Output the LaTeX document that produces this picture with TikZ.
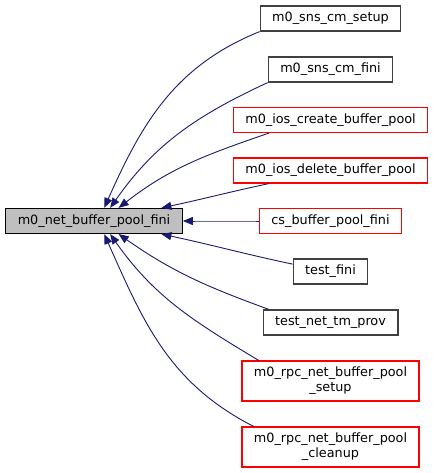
\documentclass[tikz,border=0pt]{standalone}
\usepackage{fontspec}
\setmainfont{DejaVu Sans}
\usepackage{xcolor}
\usepackage{tikz}
\usetikzlibrary{arrows.meta}
\definecolor{edgeblue}{HTML}{191970}
\definecolor{boxgray}{HTML}{404040}
\definecolor{boxred}{HTML}{FF0000}

\begin{document}
\begin{tikzpicture}
			[x=1pt,y=-1pt,every node/.style={rectangle,draw=boxgray,line width=1.2pt,fill=white,
			inner xsep=12pt,minimum height=25pt,align=center,font=\fontsize{12.8}{15}\selectfont},
			redbox/.style={draw=boxred},
			twoline/.style={minimum height=40pt},
			edge/.style={draw=edgeblue,line width=0.9pt,-{Triangle[length=10pt,width=8pt]}}]
				\useasboundingbox (0,0) rectangle (435,473);
				\node [fill=gray!50,draw=black](main) at (94,221) {m0\_net\_buffer\_pool\_fini};
				\node (setup) at (330.5,18.5) {m0\_sns\_cm\_setup};
				\node (snsfini) at (330.5,69.5) {m0\_sns\_cm\_fini};
				\node [redbox](create) at (330.5,120) {m0\_ios\_create\_buffer\_pool};
				\node [redbox](delete) at (330.5,170.5) {m0\_ios\_delete\_buffer\_pool};
				\node [redbox](cs) at (330.5,221) {cs\_buffer\_pool\_fini};
				\node (testfini) at (330.5,271.5) {test\_fini};
				\node (prov) at (330.5,322.5) {test\_net\_tm\_prov};
				\node [redbox,twoline](rpcsetup) at (330.5,381) {m0\_rpc\_net\_buffer\_pool\\\_setup};
				\node [redbox,twoline](rpccleanup) at (330.5,447) {m0\_rpc\_net\_buffer\_pool\\\_cleanup};
				% arrows point back to the called function
				\foreach \from/\to/\o/\i in {setup.south west/main.52/202/66,snsfini.south west/main.39/205/55,
					create.192/main.28/199/38,delete.192/main.11/192/12,cs.west/main.east/180/0,
					testfini.169/main.349/168/348,prov.168/main.332/160/325,
					rpcsetup.164/main.321/149/305,rpccleanup.165/main.308/153/294}
				\draw[edge] (\from) to[out=\o,in=\i] (\to);
			\end{tikzpicture}
\end{document}
